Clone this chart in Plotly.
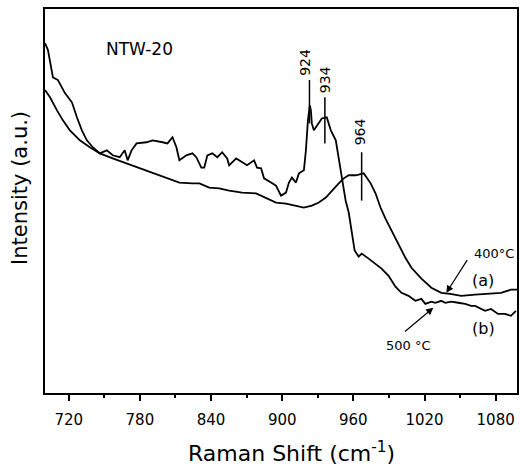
import plotly.graph_objects as go

# Raman shift (cm-1) and intensity (a.u., 0-100 scale)
# (b) 500 °C
x_b = [700.0, 702.5, 706.7, 710.9, 716.8, 722.7, 726.9, 731.1, 735.3, 740.3, 746.2,
       752.1, 757.1, 763.0, 767.2, 769.7, 773.0, 777.2, 785.6, 790.7, 799.1, 803.3,
       807.5, 810.8, 813.3, 819.2, 824.3, 827.6, 831.8, 834.3, 836.9, 841.1, 845.3,
       849.4, 853.6, 855.3, 861.2, 866.2, 870.4, 876.3, 878.8, 882.2, 884.7, 890.6,
       894.8, 899.0, 903.2, 905.7, 908.2, 911.6, 914.1, 918.3, 920.0, 921.7, 923.3,
       924.2, 925.0, 926.7, 929.2, 933.4, 937.6, 941.0, 945.2, 947.7, 950.2, 953.5,
       956.1, 957.7, 959.4, 961.1, 964.5, 967.0, 972.9, 978.7, 983.8, 989.7, 995.5,
       1000.6, 1006.5, 1012.3, 1017.4, 1020.7, 1025.8, 1029.1, 1034.2, 1037.5, 1042.6,
       1048.4, 1054.3, 1059.3, 1062.7, 1071.1, 1076.1, 1082.0, 1087.9, 1092.9, 1097.1]
y_b = [91.1, 89.3, 82.2, 81.5, 78.1, 75.7, 71.8, 68.4, 65.8, 64.0, 62.4,
       63.2, 61.9, 61.4, 63.2, 60.6, 63.2, 65.0, 65.3, 65.8, 65.3, 65.0,
       66.6, 64.0, 60.6, 61.9, 62.4, 61.4, 58.7, 58.7, 61.9, 62.4, 61.4,
       62.7, 61.1, 59.3, 61.1, 60.1, 59.3, 60.6, 58.7, 58.5, 55.9, 54.8,
       54.0, 51.4, 52.2, 54.8, 56.1, 54.8, 57.2, 58.0, 63.2, 71.0, 74.9,
       73.6, 70.2, 68.4, 69.7, 71.5, 71.8, 68.4, 65.8, 61.4, 56.1, 50.1,
       47.0, 43.6, 39.7, 37.1, 35.5, 36.3, 35.0, 33.7, 32.4, 30.5, 27.7,
       26.1, 25.3, 24.0, 24.5, 23.2, 23.8, 23.5, 24.0, 23.5, 23.8,
       23.5, 23.2, 22.7, 22.7, 21.4, 21.9, 20.6, 20.6, 20.1, 21.4]

# (a) 400 °C
x_a = [700.0, 704.2, 710.1, 715.1, 721.0, 729.4, 737.8, 746.2, 757.1, 768.8, 779.8,
       790.7, 802.4, 813.3, 824.3, 830.2, 838.5, 846.9, 855.3, 866.2, 878.0, 886.4,
       894.8, 903.2, 911.6, 918.3, 925.0, 930.9, 936.8, 941.8, 947.7, 951.9, 956.1,
       962.0, 968.7, 971.2, 974.6, 978.7, 982.9, 987.1, 992.2, 998.1, 1003.9, 1009.0,
       1017.4, 1025.8, 1034.2, 1041.7, 1051.0, 1062.7, 1073.6, 1084.5, 1092.9, 1098.0]
y_a = [78.9, 77.0, 73.6, 71.0, 68.4, 65.8, 64.0, 62.4, 61.1, 59.8, 58.7,
       57.4, 56.1, 54.8, 54.6, 54.6, 53.5, 53.3, 52.7, 52.2, 52.0, 50.7,
       49.6, 49.3, 48.8, 48.3, 48.8, 49.6, 50.9, 52.7, 54.6, 55.9, 56.7,
       56.7, 57.2, 56.1, 54.6, 52.0, 48.3, 45.4, 42.3, 38.9, 35.2, 32.6,
       29.8, 27.4, 26.1, 25.8, 25.3, 25.6, 25.8, 26.1, 26.9, 26.9]

peak_labels = ["924", "934", "964"]
peak_x = [923.0, 936.0, 967.0]
peak_y_top = [81.5, 77.0, 62.7]
peak_y_bot = [70.2, 65.0, 50.1]
label_x = [919.1, 936.3, 965.7]
label_y = [86.2, 81.5, 67.9]

tick_vals = [720, 780, 840, 900, 960, 1020, 1080]
tick_text = ["720", "780", "840", "900", "960", "1020", "1080"]
minor_vals = [750, 810, 870, 930, 990, 1050]

FONT = "DejaVu Sans"

fig = go.Figure()
fig.add_trace(go.Scatter(x=x_b, y=y_b, mode="lines",
                         line=dict(color="black", width=1.8), name="(b) 500 °C"))
fig.add_trace(go.Scatter(x=x_a, y=y_a, mode="lines",
                         line=dict(color="black", width=1.8), name="(a) 400 °C"))

# peak marker lines
for px, yt, yb in zip(peak_x, peak_y_top, peak_y_bot):
    fig.add_shape(type="line", x0=px, x1=px, y0=yb, y1=yt, xref="x", yref="y",
                  line=dict(color="black", width=1.5))

for lab, lx, ly in zip(peak_labels, label_x, label_y):
    fig.add_annotation(x=lx, y=ly, text=lab, showarrow=False, textangle=-90,
                       xanchor="center", yanchor="middle",
                       font=dict(family=FONT, size=14, color="black"))

fig.add_annotation(x=779.8, y=89.6, text="NTW-20", showarrow=False,
                   xanchor="center", yanchor="middle",
                   font=dict(family=FONT, size=17, color="black"))
fig.add_annotation(x=1078.7, y=36.3, text="400°C", showarrow=False,
                   xanchor="center", yanchor="middle",
                   font=dict(family=FONT, size=13, color="black"))
fig.add_annotation(x=1069.4, y=29.2, text="(a)", showarrow=False,
                   xanchor="center", yanchor="middle",
                   font=dict(family=FONT, size=16, color="black"))
fig.add_annotation(x=1069.4, y=16.7, text="(b)", showarrow=False,
                   xanchor="center", yanchor="middle",
                   font=dict(family=FONT, size=16, color="black"))
fig.add_annotation(x=1006.5, y=12.3, text="500 °C", showarrow=False,
                   xanchor="center", yanchor="middle",
                   font=dict(family=FONT, size=13, color="black"))

# arrows
fig.add_annotation(x=1038.4, y=26.1, ax=1056.8, ay=35.0, xref="x", yref="y",
                   axref="x", ayref="y", text="", showarrow=True,
                   arrowhead=2, arrowsize=1.2, arrowwidth=1.2, arrowcolor="black")
fig.add_annotation(x=1027.4, y=22.2, ax=1002.3, ay=15.7, xref="x", yref="y",
                   axref="x", ayref="y", text="", showarrow=True,
                   arrowhead=2, arrowsize=1.2, arrowwidth=1.2, arrowcolor="black")

# axis titles as text annotations
fig.add_annotation(x=-0.053, y=0.534, xref="paper", yref="paper",
                   xanchor="center", yanchor="middle",
                   text="Intensity (a.u.)", showarrow=False, textangle=-90,
                   font=dict(family=FONT, size=21, color="black"))
fig.add_annotation(x=0.523, y=-0.154, xref="paper", yref="paper",
                   xanchor="center", yanchor="middle",
                   text="Raman Shift (cm<sup>-1</sup>)", showarrow=False,
                   font=dict(family=FONT, size=22, color="black"))

fig.update_layout(
    width=521, height=466,
    margin=dict(l=45, r=2, t=9, b=73),
    paper_bgcolor="white", plot_bgcolor="white",
    showlegend=False,
    font=dict(family=FONT, color="black"),
)
fig.update_xaxes(
    range=[700, 1098], showgrid=False, zeroline=False,
    showline=True, linecolor="black", linewidth=2, mirror=True,
    ticks="outside", ticklen=6, tickwidth=1.5, tickcolor="black",
    tickvals=tick_vals, ticktext=tick_text, ticklabelstandoff=6,
    tickfont=dict(family=FONT, size=15, color="black"),
    minor=dict(ticks="outside", ticklen=3, tickwidth=1.5, tickcolor="black",
               tickvals=minor_vals),
)
fig.update_yaxes(
    range=[0, 100], showgrid=False, zeroline=False,
    showline=True, linecolor="black", linewidth=2, mirror=True,
    ticks="", showticklabels=False,
)

fig.write_html("out.html")
